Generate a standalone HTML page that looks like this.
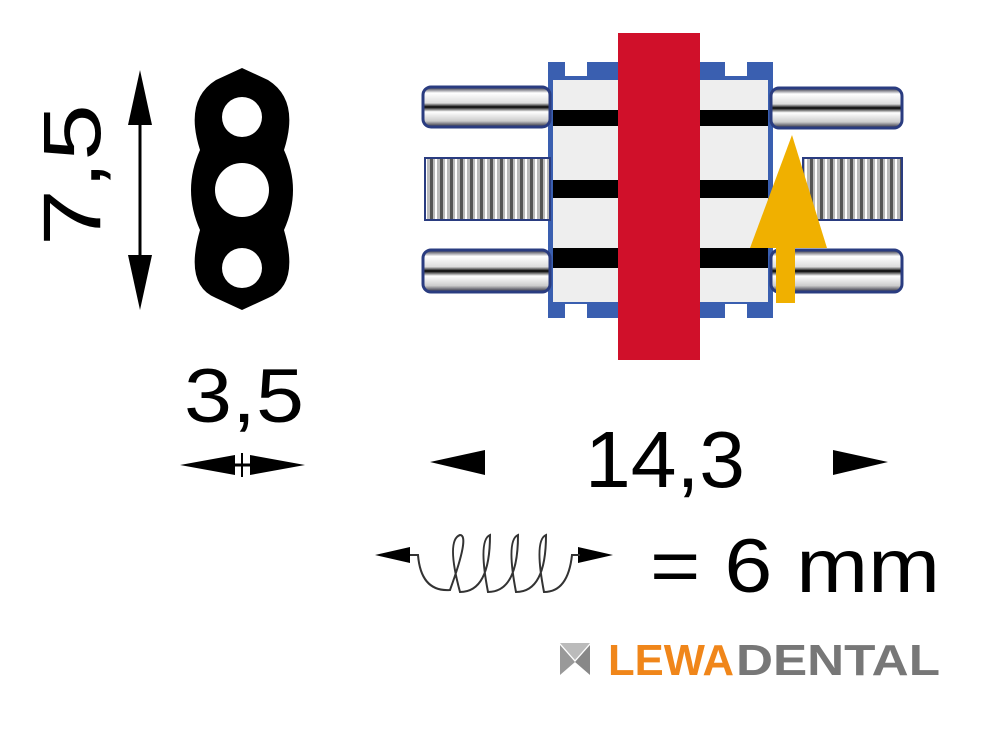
<!DOCTYPE html>
<html><head><style>
html,body{margin:0;padding:0;background:#fff;width:1000px;height:746px;overflow:hidden}
svg{display:block}
text{font-family:"Liberation Sans",sans-serif;fill:#000}
</style></head><body>
<svg width="1000" height="746" viewBox="0 0 1000 746">
<defs>
<linearGradient id="rod" x1="0" y1="0" x2="0" y2="1">
<stop offset="0" stop-color="#223"/><stop offset="0.15" stop-color="#fff"/><stop offset="0.4" stop-color="#ddd"/><stop offset="0.5" stop-color="#000"/><stop offset="0.62" stop-color="#fff"/><stop offset="0.85" stop-color="#ccc"/><stop offset="1" stop-color="#223"/>
</linearGradient>
<pattern id="thr" width="10" height="64" patternUnits="userSpaceOnUse">
<rect width="10" height="64" fill="#bbb"/><rect x="0" width="3" height="64" fill="#555"/><rect x="5" width="2" height="64" fill="#fff"/>
</pattern>
</defs>
<!-- 7,5 -->
<text transform="translate(100,246) rotate(-90)" font-size="82" textLength="142" lengthAdjust="spacingAndGlyphs">7,5</text>
<line x1="140" y1="100" x2="140" y2="280" stroke="#000" stroke-width="3"/>
<polygon points="140,70 128,125 152,125" fill="#000"/>
<polygon points="140,310 128,255 152,255" fill="#000"/>
<!-- plate -->
<path d="M242,68 L268,80 Q300,100 284,150 Q302,190 284,230 Q300,285 268,298 L242,310 L216,298 Q184,285 200,230 Q182,190 200,150 Q184,100 216,80 Z" fill="#000"/>
<circle cx="242" cy="117" r="20" fill="#fff"/>
<circle cx="242" cy="190" r="27" fill="#fff"/>
<circle cx="242" cy="268" r="20" fill="#fff"/>
<!-- 3,5 -->
<text x="184" y="422" font-size="76" textLength="120" lengthAdjust="spacingAndGlyphs">3,5</text>
<line x1="195" y1="465" x2="290" y2="465" stroke="#000" stroke-width="3"/>
<polygon points="180,465 235,455 235,475" fill="#000"/>
<polygon points="305,465 250,455 250,475" fill="#000"/>
<line x1="242" y1="453" x2="242" y2="477" stroke="#000" stroke-width="2"/>
<!-- device -->
<rect x="548" y="62" width="225" height="256" fill="#3a5fb0"/>
<rect x="565" y="62" width="22" height="14" fill="#fff"/>
<rect x="725" y="62" width="22" height="14" fill="#fff"/>
<rect x="565" y="304" width="22" height="14" fill="#fff"/>
<rect x="725" y="304" width="22" height="14" fill="#fff"/>
<rect x="553" y="80" width="215" height="222" fill="#eee"/>
<rect x="553" y="110" width="215" height="16" fill="#000"/>
<rect x="553" y="180" width="215" height="18" fill="#000"/>
<rect x="553" y="248" width="215" height="20" fill="#000"/>
<rect x="423" y="87" width="127" height="40" rx="8" fill="url(#rod)" stroke="#2a3c80" stroke-width="3"/>
<rect x="771" y="88" width="131" height="40" rx="8" fill="url(#rod)" stroke="#2a3c80" stroke-width="3"/>
<rect x="423" y="250" width="127" height="42" rx="8" fill="url(#rod)" stroke="#2a3c80" stroke-width="3"/>
<rect x="771" y="250" width="131" height="42" rx="8" fill="url(#rod)" stroke="#2a3c80" stroke-width="3"/>
<rect x="425" y="158" width="125" height="62" fill="url(#thr)" stroke="#2a3c80" stroke-width="2"/>
<rect x="803" y="158" width="99" height="62" fill="url(#thr)" stroke="#2a3c80" stroke-width="2"/>
<rect x="618" y="33" width="82" height="327" fill="#d0102a"/>
<polygon points="792,135 750,248 827,248" fill="#f0b000"/>
<rect x="776" y="248" width="19" height="55" fill="#f0b000"/>
<!-- 14,3 -->
<text x="585" y="487" font-size="80" textLength="160" lengthAdjust="spacingAndGlyphs">14,3</text>
<polygon points="430,462 485,450 485,475" fill="#000"/>
<polygon points="888,462 833,450 833,475" fill="#000"/>
<!-- spring -->
<polygon points="375,555 410,547 410,563" fill="#000"/>
<polygon points="613,555 578,547 578,563" fill="#000"/>
<path d="M410,555 L418,555 Q421,592 450,590 Q470,535 460,535 Q446,540 460,592 Q490,592 490,535 Q478,540 488,592 Q518,592 518,535 Q506,540 516,592 Q546,592 546,535 Q534,540 544,592 Q568,592 572,555 L580,555" fill="none" stroke="#333" stroke-width="2"/>
<text x="650" y="592" font-size="76" textLength="290" lengthAdjust="spacingAndGlyphs">= 6 mm</text>
<!-- logo -->
<polygon points="560,643 590,643 575,660" fill="#bbb"/>
<polygon points="560,645 575,662 560,675" fill="#999"/>
<polygon points="590,645 575,662 590,675 " fill="#888"/>
<text x="608" y="675" font-size="44" font-weight="bold" style="fill:#f0861a" textLength="126" lengthAdjust="spacingAndGlyphs">LEWA</text>
<text x="736" y="675" font-size="44" font-weight="bold" style="fill:#777" textLength="204" lengthAdjust="spacingAndGlyphs">DENTAL</text>
</svg>
</body></html>
